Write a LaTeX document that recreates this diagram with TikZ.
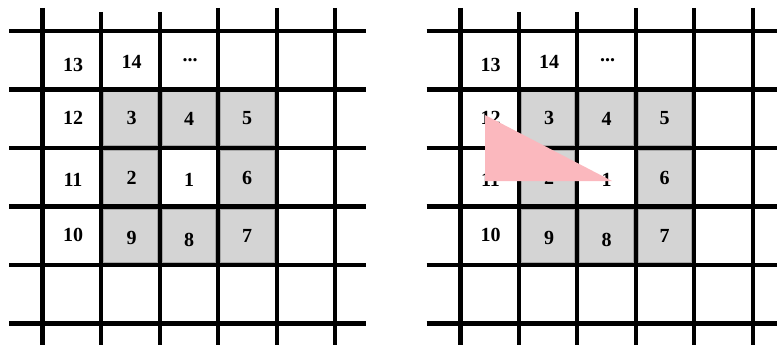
\documentclass[tikz,border=0pt]{standalone}
\usepackage{fontspec}
\setmainfont{Liberation Serif}
\definecolor{cellgray}{HTML}{D4D4D4}
\definecolor{cellborder}{HTML}{A8A8A8}
\definecolor{tripink}{HTML}{FBB8BE}
\begin{document}
\begin{tikzpicture}[x=1pt,y=-1pt,
  gridline/.style={line width=4.2pt,black},
  graycell/.style={fill=cellgray,draw=cellborder,line width=0.8pt},
  num/.style={font=\fontsize{20}{20}\selectfont\bfseries,inner sep=0pt,anchor=center}]
\useasboundingbox (0,0) rectangle (777,345);
\foreach \ox/\p in {0/L,417.5/R}{
  \begin{scope}[xshift=\ox]
    % gray cells
    \foreach \c/\r in {1/1,2/1,3/1,1/2,3/2,1/3,2/3,3/3}{
      \fill[graycell] ({42.7+58.5*\c+2.4},{31+58.5*\r+2.4}) rectangle ({42.7+58.5*(\c+1)-2.4},{31+58.5*(\r+1)-2.4});
    }
    % horizontal lines
    \foreach \r in {0,...,5}{
      \draw[gridline] (9,{31+58.5*\r}) -- (366,{31+58.5*\r});
    }
    % vertical lines
    \foreach \c/\t/\w in {0/8/5,1/12/4,2/12/4,3/8/4,4/8/4,5/8/4}{
      \draw[gridline,line width=\w pt] ({42.7+58.5*\c},\t) -- ({42.7+58.5*\c},345);
    }
    % labels
    \node[num] (\p13) at (73,65) {13};
    \node[num] (\p14) at (131.5,62) {14};
    \node[num] (\p15) at (190,60) {...};
    \node[num] (\p12) at (73,118) {12};
    \node[num] (\p3) at (131.5,118) {3};
    \node[num] (\p4) at (189,119) {4};
    \node[num] (\p5) at (247,118) {5};
    \node[num] (\p11) at (73,180) {11};
    \node[num] (\p2) at (131.5,178) {2};
    \node[num] (\p1) at (189,180) {1};
    \node[num] (\p6) at (247,178) {6};
    \node[num] (\p10) at (73,235) {10};
    \node[num] (\p9) at (131.5,238) {9};
    \node[num] (\p8) at (189,240) {8};
    \node[num] (\p7) at (247,236) {7};
  \end{scope}
}
% pink triangle on the right grid
\coordinate (ta) at (485,115);
\coordinate (tb) at (485,181);
\coordinate (tc) at (612,181);
\fill[tripink] (ta) -- (tb) -- (tc) -- cycle;
\end{tikzpicture}
\end{document}
